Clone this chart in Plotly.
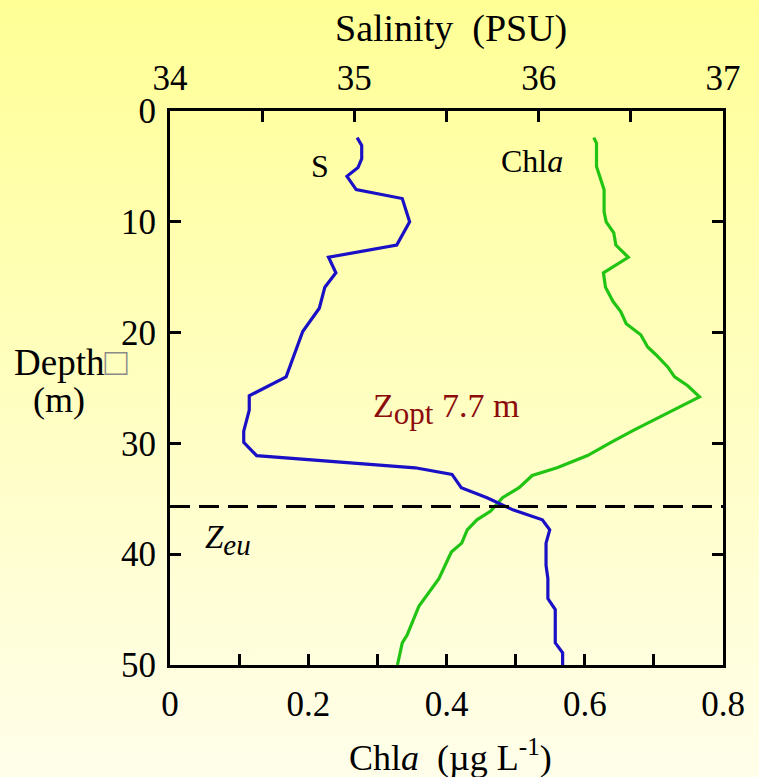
import base64
import plotly.graph_objects as go

# ---------------- data ----------------
S_DEPTH = [2.4, 3.1, 4.3, 5.1, 5.9, 7.1, 7.9, 10.0, 12.1, 13.2, 14.6, 15.9, 17.8, 19.9,
           24.0, 25.7, 27.0, 28.9, 29.9, 31.1, 32.2, 32.8, 34.0, 34.9, 36.0, 36.9, 37.8,
           39.0, 41.0, 42.2, 44.0, 45.0, 48.0, 48.9, 50.0]
S_VALUES = [35.015, 35.04, 35.04, 35.02, 34.96, 35.01, 35.26, 35.30, 35.23, 34.86, 34.90,
            34.84, 34.81, 34.72, 34.63, 34.43, 34.43, 34.40, 34.40, 34.47, 35.33, 35.53,
            35.58, 35.72, 35.86, 36.02, 36.06, 36.04, 36.04, 36.05, 36.05, 36.09, 36.09,
            36.13, 36.13]

CHL_DEPTH = [2.4, 2.9, 5.0, 6.2, 7.1, 9.1, 10.0, 11.0, 12.1, 13.2, 14.6, 15.9, 17.2, 18.1,
             19.2, 20.2, 21.3, 22.0, 23.1, 24.0, 24.8, 25.8, 26.8, 28.8, 29.9, 31.1, 32.2,
             32.9, 34.0, 34.9, 36.1, 36.9, 37.8, 39.0, 39.8, 42.2, 44.7, 47.3, 48.0, 50.0]
CHL_VALUES = [0.613, 0.617, 0.617, 0.623, 0.628, 0.628, 0.631, 0.642, 0.645, 0.663, 0.627,
              0.630, 0.641, 0.652, 0.660, 0.681, 0.691, 0.703, 0.720, 0.730, 0.749, 0.766,
              0.734, 0.671, 0.638, 0.604, 0.560, 0.524, 0.505, 0.481, 0.464, 0.444, 0.430,
              0.422, 0.407, 0.389, 0.360, 0.343, 0.336, 0.329]

ZEU = 35.7
ZOPT_VALUE = "7.7 m"

DEPTH_TICKS = [0, 10, 20, 30, 40, 50]
CHL_TICKS = [0, 0.1, 0.2, 0.3, 0.4, 0.5, 0.6, 0.7, 0.8]
CHL_TICK_LABELS = ["0", "", "0.2", "", "0.4", "", "0.6", "", "0.8"]
SAL_TICKS = [34, 34.5, 35, 35.5, 36, 36.5, 37]
SAL_TICK_LABELS = ["34", "", "35", "", "36", "", "37"]

# ---------------- layout geometry ----------------
W, H = 759, 777
L, R, T, B = 170, 36, 111, 112
PW, PH = W - L - R, H - T - B
FONT = "Liberation Serif, Times New Roman, serif"


def px(x):
    return (x - L) / PW


def py(y):
    return (H - B - y) / PH


fig = go.Figure()

fig.add_trace(go.Scatter(x=CHL_VALUES, y=CHL_DEPTH, mode="lines", xaxis="x", yaxis="y",
                         line=dict(color="#22c414", width=3.2), showlegend=False))
fig.add_trace(go.Scatter(x=S_VALUES, y=S_DEPTH, mode="lines", xaxis="x2", yaxis="y",
                         line=dict(color="#1a10c6", width=3.2), showlegend=False))

# euphotic depth line
fig.add_shape(type="line", xref="paper", yref="y", x0=0, x1=1, y0=ZEU, y1=ZEU,
              line=dict(color="black", width=3, dash="20px,9px"))

# gradient background
svg = ('<svg xmlns="http://www.w3.org/2000/svg" width="759" height="777">'
       '<defs><linearGradient id="g" x1="0" y1="0" x2="0" y2="1">'
       '<stop offset="0" stop-color="#ffff96"/>'
       '<stop offset="1" stop-color="#fffeea"/>'
       '</linearGradient></defs>'
       '<rect width="759" height="777" fill="url(#g)"/></svg>')
src = "data:image/svg+xml;base64," + base64.b64encode(svg.encode()).decode()
fig.add_layout_image(dict(source=src, xref="paper", yref="paper", x=px(0), y=py(0),
                          sizex=W / PW, sizey=H / PH, sizing="stretch",
                          xanchor="left", yanchor="top", layer="below"))

axis_common = dict(showline=True, linecolor="black", linewidth=3, ticks="inside",
                   ticklen=11, tickwidth=3, tickcolor="black", showgrid=False,
                   zeroline=False, tickfont=dict(family=FONT, size=35, color="black"))

fig.update_layout(
    width=W, height=H,
    margin=dict(l=L, r=R, t=T, b=B),
    paper_bgcolor="#ffffcc",
    plot_bgcolor="rgba(0,0,0,0)",
    xaxis=dict(range=[0, 0.8], tickmode="array", tickvals=CHL_TICKS,
               ticktext=CHL_TICK_LABELS, side="bottom", anchor="y",
               ticklabelstandoff=6, **axis_common),
    xaxis2=dict(range=[34, 37], tickmode="array", tickvals=SAL_TICKS,
                ticktext=SAL_TICK_LABELS, side="top", overlaying="x", anchor="y",
                ticklabelstandoff=4, **axis_common),
    yaxis=dict(range=[50, 0], tickmode="array", tickvals=DEPTH_TICKS, mirror="ticks",
               ticklabelstandoff=4, **axis_common),
)

annotations = [
    dict(text="Salinity\u00a0\u00a0(PSU)", x=px(451), y=py(28), size=38),
    dict(text="Chl<i>a</i>\u00a0\u00a0(\u00b5g L<sup>-1</sup>)", x=px(450), y=py(755), size=36),
    dict(text="Depth<span style='color:#8a8a8a;font-size:38px'>\u25a1</span>",
         x=px(70), y=py(362), size=37),
    dict(text="(m)", x=px(59), y=py(400), size=36),
    dict(text="S", x=px(320), y=py(166), size=32),
    dict(text="Chl<i>a</i>", x=px(532), y=py(161), size=32),
]
for a in annotations:
    fig.add_annotation(text=a["text"], x=a["x"], y=a["y"], xref="paper", yref="paper",
                       showarrow=False, xanchor="center", yanchor="middle",
                       font=dict(family=FONT, size=a["size"], color="black"))

fig.add_annotation(text="Z<sub><span style='font-size:31px'>opt</span></sub> " + ZOPT_VALUE,
                   x=px(371), y=py(409), xref="paper", yref="paper",
                   showarrow=False, xanchor="left", yanchor="middle",
                   font=dict(family=FONT, size=34, color="#8c0c0c"))
fig.add_annotation(text="<i>Z<sub><span style='font-size:29px'>eu</span></sub></i>",
                   x=px(203), y=py(540), xref="paper",
                   yref="paper", showarrow=False, xanchor="left", yanchor="middle",
                   font=dict(family=FONT, size=33, color="black"))

fig.write_html("out.html", config={"displayModeBar": False},
               post_script="document.body.style.margin='0';document.body.style.overflow='hidden';")
